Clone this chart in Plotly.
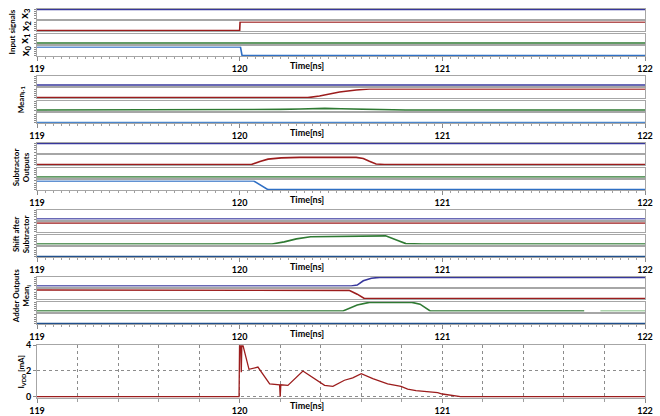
import numpy as np
import plotly.graph_objects as go

# ------------------------------------------------------------------ data
TIME_RANGE = [119, 122]
TIME_LABELS = [119, 120, 121, 122]
IVDD_TICKS = [0, 2, 4]

# Group 1: input signals (x3, x2, x1, x0)
in_x3_t = [119, 122];                         in_x3_v = [1, 1]
in_x2_t = [119, 120.0, 120.002, 122];         in_x2_v = [0, 0, 1, 1]
in_x1_t = [119, 122];                         in_x1_v = [0, 0]
in_x0_t = [119, 120.004, 120.012, 122];       in_x0_v = [1, 1, 0, 0]

# Group 2: Mean_{i-1}
mp_s3_t = [119, 122];                         mp_s3_v = [0, 0]
mp_s2_t = [119, 120.336, 120.394, 120.45, 120.493, 120.575, 120.64, 122]
mp_s2_v = [0, 0, 0.19, 0.42, 0.65, 0.88, 1, 1]
mp_s1_t = [119, 120.12, 120.2, 120.3, 120.42, 120.5, 120.6, 120.75, 120.82, 122]
mp_s1_v = [0, 0, 0.08, 0.12, 0.2, 0.15, 0.1, 0.05, 0, 0]
mp_s0_t = [119, 122];                         mp_s0_v = [0, 0]

# Group 3: Subtractor outputs
su_s3_t = [119, 122];                         su_s3_v = [1, 1]
su_s2_t = [119, 120.058, 120.1, 120.14, 120.205, 120.296, 120.575, 120.61, 120.64, 120.673, 120.714, 122]
su_s2_v = [0, 0, 0.35, 0.63, 0.78, 0.84, 0.84, 0.7, 0.38, 0.06, 0, 0]
su_s1_t = [119, 122];                         su_s1_v = [0, 0]
su_s0_t = [119, 120.07, 120.14, 122];         su_s0_v = [1, 1, 0, 0]

# Group 4: Shift after subtractor
sh_s3_t = [119, 122];                         sh_s3_v = [0, 0]
sh_s2_t = [119, 122];                         sh_s2_v = [1, 1]
sh_s1_t = [119, 120.16, 120.22, 120.28, 120.35, 120.5, 120.65, 120.72, 120.78, 120.82, 120.9, 122]
sh_s1_v = [0, 0, 0.25, 0.6, 0.85, 0.92, 0.97, 0.95, 0.4, 0.05, 0, 0]
sh_s0_t = [119, 122];                         sh_s0_v = [0, 0]

# Group 5: Adder outputs Mean_i
ad_s3_t = [119, 120.55, 120.58, 120.61, 120.65, 120.69, 122]
ad_s3_v = [0, 0, 0.1, 0.6, 0.9, 1, 1]
ad_s2_t = [119, 120.5, 120.54, 120.58, 120.615, 122]
ad_s2_v = [1, 1, 0.95, 0.5, 0, 0]
ad_s1_t = [119, 120.51, 120.58, 120.64, 120.85, 120.89, 120.94, 121.70, 121.78, 122]
ad_s1_v = [0, 0, 0.7, 1, 1, 0.8, 0, 0, None, 0]
ad_s1_gap_t = [121.78, 122]
ad_s1_gap_v = [0, 0]
ad_s0_t = [119, 122];                         ad_s0_v = [0, 0]

# Group 6: supply current I_VDD [mA]
ivdd_t = [119, 119.997, 120.0, 120.003, 120.008, 120.012, 120.016, 120.046, 120.09,
          120.148, 120.197, 120.2, 120.203, 120.222, 120.238, 120.312, 120.369, 120.419,
          120.46, 120.517, 120.558, 120.6, 120.657, 120.73, 120.796, 120.829, 120.87,
          120.936, 120.977, 121.0, 121.05, 121.074, 121.09, 122]
ivdd_v = [0, 0, 5, 5, 1.9, 5, 4.0, 2.13, 2.3,
          1.0, 0.93, 0, 0.93, 0.93, 0.88, 2.0, 1.41, 0.88,
          0.8, 1.28, 1.47, 1.79, 1.41, 1.0, 0.8, 0.59, 0.48,
          0.35, 0.32, 0.21, 0.08, 0.05, 0, 0]

# ------------------------------------------------------------------ style
NAVY = '#37379c'
RED = '#9c1d1d'
GREEN = '#2f7a33'
BLUE = '#2f6fc4'
LBLUE = '#4a86cc'
DBLUE = '#1f4f8c'
LGREEN = '#8fc48f'
BORDER = '#a6a6a6'
TICKC = '#8a8a8a'
FONT = 'Lato'

W, H = 660, 416
ML, MR, MT, MB = 37, 15, 0, 15
PW, PH = W - ML - MR, H - MT - MB


def yf(px):
    return 1 - (px - MT) / PH


def xf(px):
    return (px - ML) / PW


groups = [
    [(in_x3_t, in_x3_v, NAVY), (in_x2_t, in_x2_v, RED), (in_x1_t, in_x1_v, GREEN), (in_x0_t, in_x0_v, BLUE)],
    [(mp_s3_t, mp_s3_v, NAVY), (mp_s2_t, mp_s2_v, RED), (mp_s1_t, mp_s1_v, GREEN), (mp_s0_t, mp_s0_v, LBLUE)],
    [(su_s3_t, su_s3_v, NAVY), (su_s2_t, su_s2_v, RED), (su_s1_t, su_s1_v, GREEN), (su_s0_t, su_s0_v, BLUE)],
    [(sh_s3_t, sh_s3_v, NAVY), (sh_s2_t, sh_s2_v, RED), (sh_s1_t, sh_s1_v, GREEN), (sh_s0_t, sh_s0_v, DBLUE)],
    [(ad_s3_t, ad_s3_v, NAVY), (ad_s2_t, ad_s2_v, RED), (ad_s1_t, ad_s1_v, GREEN), (ad_s0_t, ad_s0_v, DBLUE)],
]

GROUP_PITCH = 68.5
STRIP_PITCH = 12.8
STRIP_H = 10
FIRST_TOP = 3

tick_text = ['<b>%d</b>' % v for v in TIME_LABELS]

fig = go.Figure()
layout = dict(
    width=W, height=H, margin=dict(l=ML, r=MR, t=MT, b=MB),
    paper_bgcolor='white', plot_bgcolor='white', showlegend=False,
    font=dict(family=FONT, size=9, color='black'),
)
annotations = []

idx = 0
for g, strips in enumerate(groups):
    gtop = FIRST_TOP + g * GROUP_PITCH
    for s, (tt, vv, col) in enumerate(strips):
        idx += 1
        top = gtop + s * STRIP_PITCH
        bot = top + STRIP_H
        xa = 'x' if idx == 1 else 'x%d' % idx
        ya = 'y' if idx == 1 else 'y%d' % idx
        fig.add_trace(go.Scatter(x=tt, y=vv, mode='lines', line=dict(color=col, width=1.6),
                                 xaxis=xa, yaxis=ya, hoverinfo='skip'))
        if (g, s) == (4, 2):
            fig.add_trace(go.Scatter(x=ad_s1_gap_t, y=ad_s1_gap_v, mode='lines',
                                     line=dict(color=LGREEN, width=1.6),
                                     xaxis=xa, yaxis=ya, hoverinfo='skip'))
        is_bottom = s == 3
        xdict = dict(domain=[0, 1], range=TIME_RANGE, anchor=ya, showline=True, mirror=True,
                     linecolor=BORDER, linewidth=1, showgrid=False, zeroline=False,
                     fixedrange=True)
        if is_bottom:
            xdict.update(tickmode='array', tickvals=TIME_LABELS, ticktext=tick_text,
                         ticks='outside', ticklen=4, tickcolor=TICKC, tickwidth=1,
                         tickfont=dict(size=9, family=FONT, color='black'),
                         minor=dict(ticks='outside', ticklen=2, tickcolor='#a0a0a0', dtick=0.04))
        else:
            xdict.update(showticklabels=False, ticks='')
        ydict = dict(domain=[yf(bot), yf(top)], range=[-0.07, 1.07], anchor=xa, showline=True,
                     mirror=True, linecolor=BORDER, linewidth=1, showgrid=False, zeroline=False,
                     showticklabels=False, ticks='outside', ticklen=2, tickcolor=TICKC,
                     tickvals=[0, 0.25, 0.5, 0.75, 1], fixedrange=True)
        layout['xaxis' if idx == 1 else 'xaxis%d' % idx] = xdict
        layout['yaxis' if idx == 1 else 'yaxis%d' % idx] = ydict
        if is_bottom:
            annotations.append(dict(x=120.33, y=yf(bot + 9.5), xref=xa, yref='paper',
                                    text='<b>Time[ns]</b>', showarrow=False,
                                    font=dict(size=9, family=FONT), yanchor='middle'))

# bottom panel: I_VDD
idx += 1
xa, ya = 'x%d' % idx, 'y%d' % idx
PTOP, PBOT = 347, 401
fig.add_trace(go.Scatter(x=ivdd_t, y=ivdd_v, mode='lines', line=dict(color=RED, width=1.3),
                         xaxis=xa, yaxis=ya, hoverinfo='skip'))
layout['xaxis%d' % idx] = dict(domain=[0, 1], range=TIME_RANGE, anchor=ya, showline=True,
                               mirror=True, linecolor=BORDER, linewidth=1, zeroline=False,
                               tickmode='array', tickvals=TIME_LABELS, ticktext=tick_text,
                               ticks='outside', ticklen=4, tickcolor=TICKC,
                               showgrid=True, gridcolor='#8c8c8c', griddash='dot', gridwidth=1,
                               tickfont=dict(size=9, family=FONT, color='black'),
                               minor=dict(ticks='outside', ticklen=3, tickcolor='#a0a0a0',
                                          dtick=0.2, showgrid=True, gridcolor='#8c8c8c',
                                          griddash='dot', gridwidth=1),
                               fixedrange=True)
layout['yaxis%d' % idx] = dict(domain=[yf(PBOT), yf(PTOP)], range=[-0.1, 4.0], anchor=xa,
                               showline=True, mirror=True, linecolor=BORDER, linewidth=1,
                               zeroline=False, tickmode='array', tickvals=IVDD_TICKS,
                               ticktext=['<b>%d</b>' % v for v in IVDD_TICKS],
                               ticks='outside', ticklen=3, tickcolor=TICKC,
                               showgrid=True, gridcolor='#8c8c8c', griddash='dot',
                               tickfont=dict(size=9, family=FONT, color='black'),
                               fixedrange=True)
annotations.append(dict(x=120.33, y=yf(PBOT + 8), xref=xa, yref='paper',
                        text='<b>Time[ns]</b>', showarrow=False,
                        font=dict(size=9, family=FONT), yanchor='middle'))


# side titles
def side(text, px, py, size=8):
    annotations.append(dict(x=xf(px), y=yf(py), xref='paper', yref='paper', text=text,
                            textangle=-90, showarrow=False, font=dict(size=size, family=FONT),
                            xanchor='center', yanchor='middle'))


side('<b>Input signals</b>', 12, 27)
for s, lab in enumerate(['x<sub>3</sub>', 'x<sub>2</sub>', 'x<sub>1</sub>', 'x<sub>0</sub>']):
    side('<b>%s</b>' % lab, 25, FIRST_TOP + s * STRIP_PITCH + STRIP_H / 2, size=11)
side('<b>Mean<sub>i-1</sub></b>', 21, FIRST_TOP + GROUP_PITCH + 25)
side('<b>Subtractor<br>Outputs</b>', 21, FIRST_TOP + 2 * GROUP_PITCH + 25)
side('<b>Shift after<br>Subtractor</b>', 21, FIRST_TOP + 3 * GROUP_PITCH + 25)
side('<b>Adder Outputs<br>Mean<sub>i</sub></b>', 21, FIRST_TOP + 4 * GROUP_PITCH + 20)
side('<b>I<sub>VDD</sub> [mA]</b>', 22, 374)

layout['annotations'] = annotations
fig.update_layout(**layout)
fig.write_html('out.html', config={'displayModeBar': False, 'staticPlot': True},
               post_script="document.body.style.margin='0';document.body.style.padding='0';")
